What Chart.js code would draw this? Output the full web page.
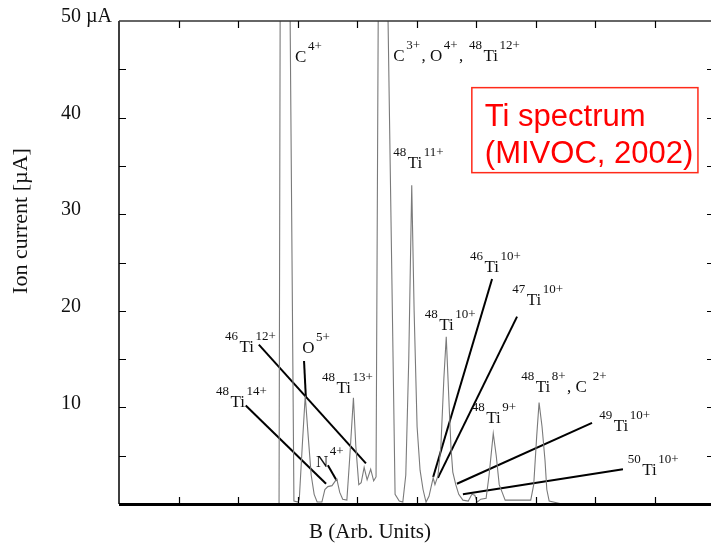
<!DOCTYPE html>
<html>
<head>
<meta charset="utf-8">
<script src="https://cdn.jsdelivr.net/npm/chart.js@4/dist/chart.umd.min.js"></script>
<style>
  html, body { margin: 0; padding: 0; background: #fff; overflow: hidden; }
  canvas { display: block; }
</style>
</head>
<body>
<canvas id="spectrum" width="720" height="545"></canvas>
<script>
// magnet sweep in arb. units (0-100 over the frame) and ion current in µA
// the C4+ and C3+/O4+ peaks run off scale, so they are given 55 and get clipped at 50
const bField = [0, 25.4, 26.9, 27.1, 28.7, 29.4, 30.1, 30.3, 30.8, 31.3, 31.8, 32.3, 32.8, 33.3,
  34.1, 34.6, 35.1, 35.8, 36.6, 37.1, 37.6, 38.3, 38.8, 39.4, 39.8, 40.3, 40.7, 41.2, 41.7, 42.3,
  42.8, 43.2, 43.6, 45.1, 46.4, 47.1, 47.7, 48.2, 48.7, 49.2, 49.6, 50.1, 50.6, 51.1, 51.6,
  52.1, 52.8, 53.1, 53.6, 54.1, 54.6, 55.0, 55.5, 55.8, 56.1, 56.6, 57.1, 57.8, 58.7, 59.3,
  59.8, 60.2, 60.8, 61.7, 62.2, 62.9, 63.4, 63.9, 64.4, 64.9, 67.4, 69.2, 69.7, 70.2, 70.6,
  71.1, 71.6, 71.9, 72.3, 74.1, 100];
const current = [0, 0, 0, 55, 55, 0.3, 0.2, 0.5, 6, 11.2, 7, 3, 1, 0.2,
  0.2, 1.5, 1.8, 1.9, 2.6, 1.2, 0.5, 0.4, 5, 11.0, 6, 2.0, 2.2, 3.8, 2.5, 3.6,
  2.4, 2.8, 55, 55, 1.0, 0.3, 0.2, 3, 15, 33.0, 20, 8, 3.5, 1.5, 0.2,
  0.8, 2.7, 2.0, 2.9, 6, 13, 17.3, 10, 5.8, 3.3, 2.0, 1.0, 0.4, 0.3, 1.0,
  0.9, 0.2, 0.5, 0.6, 3, 7.3, 5, 2.0, 1.2, 0.4, 0.4, 0.4, 2, 7, 10.5,
  8, 4.5, 1.5, 0.3, 0.05, 0.05];

const yLabelValues = [10, 20, 30, 40, 50];
const yLabelTexts = ['10', '20', '30', '40', '50 µA'];

// peak names, "^" marks a superscript part, "|" splits parts
const ionNames = ['C|^4+', 'C|^3+|, O|^4+|, |^48|Ti|^12+', '^48|Ti|^11+', '^46|Ti|^10+', '^47|Ti|^10+',
  '^48|Ti|^10+', '^48|Ti|^9+', '^48|Ti|^8+|, C |^2+', '^49|Ti|^10+', '^50|Ti|^10+',
  '^46|Ti|^12+', '^48|Ti|^14+', 'O|^5+', '^48|Ti|^13+', 'N|^4+'];
const ionX = [29.6, 46.1, 46.1, 59.0, 66.1, 51.4, 59.3, 67.6, 80.7, 85.5, 17.8, 16.3, 30.8, 34.1, 33.1];
const ionY = [45.8, 45.9, 34.8, 24.0, 20.6, 18.0, 8.4, 11.6, 7.6, 3.0, 15.7, 10.0, 15.6, 11.5, 3.8];

// pointer lines from a name to its peak: [x1, y1, x2, y2]
const leaders = [
  [23.5, 16.5, 41.5, 4.2],
  [21.3, 10.2, 34.8, 2.1],
  [31.1, 14.8, 31.4, 11.1],
  [35.1, 4.0, 36.6, 2.4],
  [62.7, 23.3, 52.8, 2.8],
  [66.9, 19.4, 53.6, 2.7],
  [79.5, 8.4, 56.8, 2.1],
  [84.7, 3.6, 57.8, 1.0]
];

const noteLines = ['Ti spectrum', '(MIVOC, 2002)'];
const noteBox = [59.3, 43.1, 97.3, 34.3];

const serif = '"Liberation Serif", "DejaVu Serif", serif';

const datasets = [{
  data: bField.map((b, i) => ({ x: b, y: current[i] })),
  borderColor: '#7a7a7a',
  borderWidth: 1.1,
  pointRadius: 0,
  tension: 0
}];
leaders.forEach(l => {
  datasets.push({
    data: [{ x: l[0], y: l[1] }, { x: l[2], y: l[3] }],
    borderColor: '#000',
    borderWidth: 2,
    pointRadius: 0
  });
});

const framePlugin = {
  id: 'frame',
  afterDatasetsDraw(chart) {
    const { ctx, chartArea: a, scales: { x, y } } = chart;
    ctx.save();
    ctx.strokeStyle = '#000';
    ctx.lineWidth = 1.5;
    ctx.beginPath();
    ctx.moveTo(a.left, a.top); ctx.lineTo(a.left, a.bottom);
    ctx.moveTo(a.right, a.top); ctx.lineTo(a.right, a.bottom);
    ctx.stroke();
    ctx.strokeStyle = '#333';
    ctx.beginPath();
    ctx.moveTo(a.left, a.top); ctx.lineTo(a.right, a.top);
    ctx.stroke();
    ctx.strokeStyle = '#000';
    ctx.lineWidth = 3;
    ctx.beginPath();
    ctx.moveTo(a.left, a.bottom + 0.5); ctx.lineTo(a.right, a.bottom + 0.5);
    ctx.stroke();

    // inward ticks on all four sides
    ctx.lineWidth = 1.2;
    ctx.beginPath();
    y.ticks.forEach(t => {
      if (t.value <= y.min || t.value >= y.max) return;
      const py = Math.round(y.getPixelForValue(t.value)) + 0.5;
      ctx.moveTo(a.left, py); ctx.lineTo(a.left + 7, py);
      ctx.moveTo(a.right, py); ctx.lineTo(a.right - 7, py);
    });
    x.ticks.forEach(t => {
      if (t.value <= x.min || t.value >= x.max) return;
      const px = Math.round(x.getPixelForValue(t.value)) + 0.5;
      ctx.moveTo(px, a.bottom); ctx.lineTo(px, a.bottom - 7);
      ctx.moveTo(px, a.top); ctx.lineTo(px, a.top + 7);
    });
    ctx.stroke();
    ctx.restore();
  },
  afterDraw(chart) {
    const { ctx, scales: { x, y } } = chart;
    ctx.save();
    ctx.fillStyle = '#111';
    ctx.textBaseline = 'alphabetic';
    ctx.textAlign = 'left';

    ionNames.forEach((name, i) => {
      let cx = x.getPixelForValue(ionX[i]);
      const by = y.getPixelForValue(ionY[i]);
      name.split('|').forEach(part => {
        const sup = part.startsWith('^');
        const text = sup ? part.slice(1) : part;
        ctx.font = (sup ? '13px ' : '17px ') + serif;
        ctx.fillText(text, cx, sup ? by - 12 : by);
        cx += ctx.measureText(text).width + 1.5;
      });
    });

    // red note box
    const bx1 = x.getPixelForValue(noteBox[0]);
    const by1 = y.getPixelForValue(noteBox[1]);
    const bx2 = x.getPixelForValue(noteBox[2]);
    const by2 = y.getPixelForValue(noteBox[3]);
    ctx.strokeStyle = '#ff2a1a';
    ctx.lineWidth = 1.5;
    ctx.strokeRect(bx1, by1, bx2 - bx1, by2 - by1);
    ctx.fillStyle = '#ff0000';
    ctx.font = '31px "Liberation Sans", Arial, sans-serif';
    noteLines.forEach((line, i) => {
      ctx.fillText(line, bx1 + 13, by1 + 38 + i * 37);
    });

    // axis titles
    ctx.fillStyle = '#111';
    ctx.font = '21px ' + serif;
    ctx.textAlign = 'center';
    ctx.fillText('B (Arb. Units)', 370, 538);
    ctx.translate(21, 221);
    ctx.rotate(-Math.PI / 2);
    ctx.font = '22px ' + serif;
    ctx.textBaseline = 'middle';
    ctx.fillText('Ion current [µA]', 0, 0);
    ctx.restore();
  }
};

new Chart(document.getElementById('spectrum'), {
  type: 'line',
  data: { datasets },
  options: {
    responsive: false,
    animation: false,
    layout: { padding: { left: 61, top: 21, right: 6, bottom: 41 } },
    plugins: { legend: { display: false }, tooltip: { enabled: false } },
    scales: {
      x: {
        type: 'linear',
        min: 0,
        max: 100,
        ticks: { display: false, stepSize: 10 },
        grid: { display: false },
        border: { display: false },
        afterFit: s => { s.height = 0; s.paddingLeft = 0; s.paddingRight = 0; }
      },
      y: {
        min: 0,
        max: 50,
        ticks: {
          stepSize: 5,
          autoSkip: false,
          crossAlign: 'far',
          labelOffset: -4,
          color: '#111',
          font: { family: serif, size: 20 },
          callback: v => {
            const i = yLabelValues.indexOf(v);
            return i < 0 ? '' : yLabelTexts[i];
          }
        },
        grid: { display: false },
        border: { display: false },
        afterFit: s => { s.width = 58; s.paddingTop = 0; s.paddingBottom = 0; }
      }
    }
  },
  plugins: [framePlugin]
});
</script>
</body>
</html>
